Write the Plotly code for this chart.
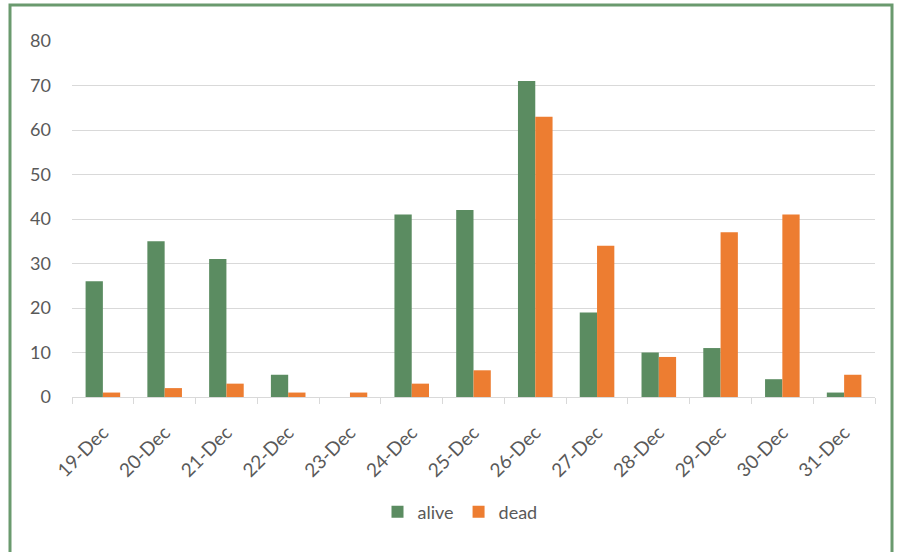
import plotly.graph_objects as go

dates = ["19-Dec", "20-Dec", "21-Dec", "22-Dec", "23-Dec", "24-Dec", "25-Dec",
         "26-Dec", "27-Dec", "28-Dec", "29-Dec", "30-Dec", "31-Dec"]
alive = [26, 35, 31, 5, 0, 41, 42, 71, 19, 10, 11, 4, 1]
dead = [1, 2, 3, 1, 1, 3, 6, 63, 34, 9, 37, 41, 5]

W, H = 897, 552
L, R, T, B = 72, 22, 41, 155
pw, ph = W - L - R, H - T - B

fig = go.Figure()
fig.add_trace(go.Bar(name="alive", x=dates, y=alive, marker_color="#5B8C61", marker_line_width=0))
fig.add_trace(go.Bar(name="dead", x=dates, y=dead, marker_color="#ED7D31", marker_line_width=0))

def px(x):
    return (x - L) / pw

def py(y):
    return (H - B - y) / ph

fig.update_layout(
    width=W, height=H,
    margin=dict(l=L, r=R, t=T, b=B, pad=0),
    paper_bgcolor="white", plot_bgcolor="white",
    barmode="group", bargap=0.44, bargroupgap=0,
    font=dict(family="Lato, Open Sans, sans-serif", size=15, color="#595959"),
    showlegend=True,
    legend=dict(orientation="h", x=px(460), xanchor="center", y=py(512), yanchor="middle",
                font=dict(size=18, color="#595959"), itemwidth=30, traceorder="normal"),
    shapes=[dict(type="rect", xref="paper", yref="paper",
                 x0=px(10), x1=px(892), y0=py(570), y1=py(5),
                 line=dict(color="#6A9A6E", width=3), fillcolor="rgba(0,0,0,0)", layer="above")],
)
fig.update_xaxes(
    type="category", showgrid=False, showline=True, linecolor="#D9D9D9", linewidth=1,
    ticks="outside", tickson="boundaries", ticklen=6, tickcolor="#D9D9D9",
    tickangle=-45, tickfont=dict(size=19, color="#595959"), ticklabelstandoff=16,
)
fig.update_yaxes(
    range=[0, 80], dtick=10, showgrid=True, gridcolor="#D9D9D9", gridwidth=1,
    zeroline=False, showline=False, ticks="", ticklabelstandoff=20,
    tickfont=dict(size=18, color="#595959"),
)

fig.write_html("out.html")
